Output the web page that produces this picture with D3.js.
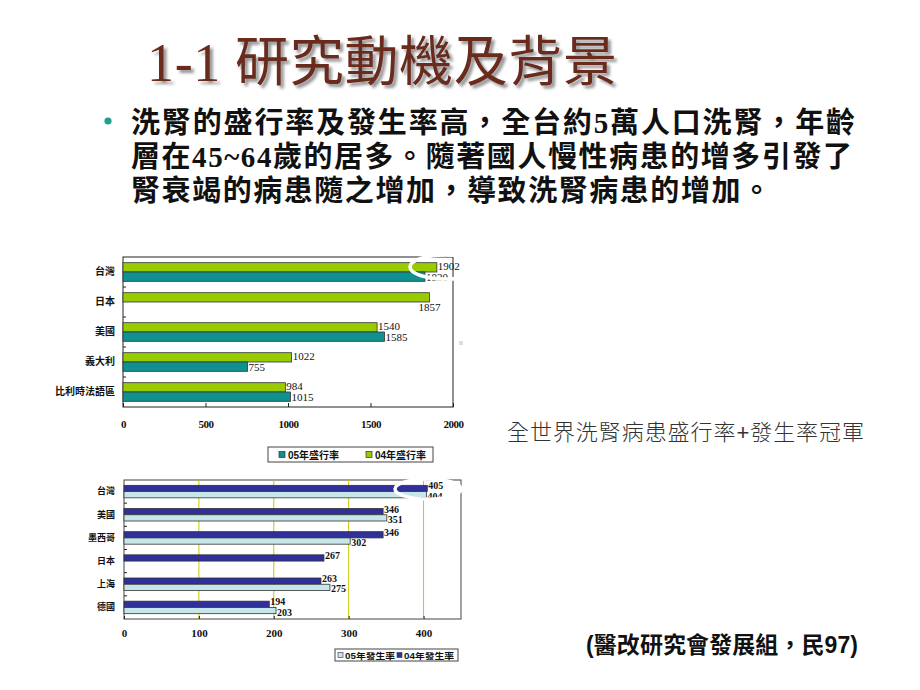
<!DOCTYPE html>
<html><head><meta charset="utf-8">
<script src="https://cdn.jsdelivr.net/npm/d3@7"></script>
<style>
html,body{margin:0;padding:0;background:#fff;}
svg{display:block;}
</style></head>
<body>
<script>
// ---------- data ----------
const prevCats = ["台灣", "日本", "美國", "義大利", "比利時法語區"];
const prev04 = [1902, 1857, 1540, 1022, 984];
const prev05 = [1830, null, 1585, 755, 1015];
const prevTicks = [0, 500, 1000, 1500, 2000];
const prevLegend = ["05年盛行率", "04年盛行率"];

const incCats = ["台灣", "美國", "墨西哥", "日本", "上海", "德國"];
const inc04 = [405, 346, 346, 267, 263, 194];
const inc05 = [404, 351, 302, null, 275, 203];
const incTicks = [0, 100, 200, 300, 400];
const incLegend = ["05年發生率", "04年發生率"];

const titleText = "1-1 研究動機及背景";
const bodyLines = [
  "洗腎的盛行率及發生率高，全台約5萬人口洗腎，年齡",
  "層在45~64歲的居多。隨著國人慢性病患的增多引發了",
  "腎衰竭的病患隨之增加，導致洗腎病患的增加。"
];
const captionText = "全世界洗腎病患盛行率+發生率冠軍";
const sourceText = "(醫改研究會發展組，民97)";

// ---------- svg ----------
const W = 920, H = 690;
const svg = d3.select("body").append("svg").attr("width", W).attr("height", H);
const defs = svg.append("defs");
defs.append("filter").attr("id", "shadow").attr("x", "-5%").attr("y", "-20%")
  .attr("width", "115%").attr("height", "150%")
  .append("feDropShadow").attr("dx", 3).attr("dy", 3).attr("stdDeviation", 1.6)
  .attr("flood-color", "#777").attr("flood-opacity", 0.8);

const serifCJK = "'Liberation Serif','Times New Roman','Noto Sans CJK TC',serif";
const sansCJK = "'Liberation Sans',Arial,'Noto Sans CJK TC',sans-serif";

// title with shadow
svg.append("text").attr("x", 147).attr("y", 81)
  .attr("font-family", serifCJK).attr("font-size", 54)
  .attr("fill", "#6b2a1c").attr("filter", "url(#shadow)")
  .attr("textLength", 470).attr("lengthAdjust", "spacing")
  .text(titleText);

// bullet + body
svg.append("circle").attr("cx", 108).attr("cy", 121).attr("r", 3.6).attr("fill", "#1f9f8c");
const bodyLens = [724, 721, 640];
bodyLines.forEach((t, i) => {
  svg.append("text").attr("x", 131).attr("y", 133 + i * 34)
    .attr("font-family", serifCJK).attr("font-weight", "bold").attr("font-size", 29)
    .attr("fill", "#111")
    .attr("textLength", bodyLens[i]).attr("lengthAdjust", "spacing")
    .text(t);
});

// caption & source
svg.append("text").attr("x", 507).attr("y", 440)
  .attr("font-family", sansCJK).attr("font-size", 22).attr("font-weight", 300)
  .attr("fill", "#333").attr("textLength", 357).attr("lengthAdjust", "spacing")
  .text(captionText);
svg.append("text").attr("x", 586).attr("y", 653)
  .attr("font-family", sansCJK).attr("font-size", 23).attr("font-weight", "bold")
  .attr("fill", "#111").attr("textLength", 272).attr("lengthAdjust", "spacing")
  .text(sourceText);

// ---------- chart 1 : prevalence ----------
{
  const g = svg.append("g");
  const x = d3.scaleLinear().domain([0, 2000]).range([123, 453]);
  const y = d3.scaleBand().domain(prevCats).range([257, 407]).paddingInner(0.38).paddingOuter(0.19);
  const sub = d3.scaleBand().domain(["04", "05"]).range([0, y.bandwidth()]);
  const cGreen = "#99cc00", cTeal = "#0f9190";

  g.append("rect").attr("x", 123).attr("y", 257).attr("width", 330).attr("height", 150)
    .attr("fill", "#fff").attr("stroke", "#222").attr("stroke-width", 1);

  const ax = g.append("g").attr("transform", "translate(0,407)")
    .call(d3.axisBottom(x).tickValues(prevTicks).tickFormat(d3.format("d"))
      .tickSizeInner(-4).tickSizeOuter(0).tickPadding(13));
  ax.select(".domain").remove();
  ax.selectAll("line").attr("stroke", "#222");
  ax.selectAll("text").attr("font-family", serifCJK).attr("font-weight", "bold")
    .attr("font-size", 11).attr("fill", "#111").attr("letter-spacing", -0.5);

  const ay = g.append("g").attr("transform", "translate(123,0)")
    .call(d3.axisLeft(y).tickSize(0).tickPadding(8));
  ay.select(".domain").remove();
  ay.selectAll("text").attr("font-family", sansCJK).attr("font-weight", "bold")
    .attr("font-size", 10).attr("fill", "#111");
  g.selectAll(".bt").data(prevCats.slice(1)).enter().append("line")
    .attr("x1", 123).attr("x2", 126)
    .attr("y1", d => y(d) - y.step() * y.paddingInner() / 2)
    .attr("y2", d => y(d) - y.step() * y.paddingInner() / 2)
    .attr("stroke", "#222");

  const rows = prevCats.map((c, i) => ({ c, v04: prev04[i], v05: prev05[i] }));
  g.selectAll(".b04").data(rows).enter().append("rect")
    .attr("x", x(0)).attr("y", d => y(d.c) + sub("04"))
    .attr("width", d => x(d.v04) - x(0)).attr("height", sub.bandwidth())
    .attr("fill", cGreen).attr("stroke", "#333").attr("stroke-width", 0.8);
  g.selectAll(".b05").data(rows.filter(d => d.v05 != null)).enter().append("rect")
    .attr("x", x(0)).attr("y", d => y(d.c) + sub("05"))
    .attr("width", d => x(d.v05) - x(0)).attr("height", sub.bandwidth())
    .attr("fill", cTeal).attr("stroke", "#333").attr("stroke-width", 0.8);
  const lf = { "font-family": serifCJK, "font-size": 11, fill: "#111" };
  rows.forEach(d => {
    const t1 = g.append("text");
    if (d.v05 == null) {
      t1.attr("x", x(d.v04)).attr("y", y(d.c) + sub("05") + sub.bandwidth() / 2 + 4).attr("text-anchor", "middle");
    } else {
      t1.attr("x", x(d.v04) + 1).attr("y", y(d.c) + sub("04") + sub.bandwidth() / 2 + 3);
    }
    t1.text(d.v04);
    Object.entries(lf).forEach(([k, v]) => t1.attr(k, v));
    if (d.v05 != null) {
      const t2 = g.append("text").attr("x", x(d.v05) + 1)
        .attr("y", y(d.c) + sub("05") + sub.bandwidth() / 2 + 4).text(d.v05);
      Object.entries(lf).forEach(([k, v]) => t2.attr(k, v));
    }
  });
  g.append("ellipse").attr("cx", 446).attr("cy", 267).attr("rx", 36).attr("ry", 12)
    .attr("fill", "none").attr("stroke", "#fff").attr("stroke-width", 3.5);
  g.append("rect").attr("x", 459).attr("y", 341).attr("width", 4).attr("height", 4).attr("fill", "#ddd");

  const lg = g.append("g");
  lg.append("rect").attr("x", 268).attr("y", 447).attr("width", 165).attr("height", 15)
    .attr("fill", "#fff").attr("stroke", "#444").attr("stroke-width", 1);
  const lcol = [cTeal, cGreen];
  const lx = [279, 366];
  prevLegend.forEach((t, i) => {
    lg.append("rect").attr("x", lx[i]).attr("y", 451.5).attr("width", 6).attr("height", 6)
      .attr("fill", lcol[i]).attr("stroke", "#333").attr("stroke-width", 0.7);
    lg.append("text").attr("x", lx[i] + 9).attr("y", 458.5).attr("font-family", sansCJK)
      .attr("font-size", 10).attr("font-weight", "bold").attr("fill", "#111").text(t);
  });
}

// ---------- chart 2 : incidence ----------
{
  const g = svg.append("g");
  const x = d3.scaleLinear().domain([0, 450]).range([124, 461]);
  const y = d3.scaleBand().domain(incCats).range([480, 619]).paddingInner(0.46).paddingOuter(0.23);
  const sub = d3.scaleBand().domain(["04", "05"]).range([0, y.bandwidth()]);
  const cDark = "#30309a", cLight = "#c6e6ea";

  g.append("rect").attr("x", 124).attr("y", 480).attr("width", 337).attr("height", 139)
    .attr("fill", "#fff").attr("stroke", "#444").attr("stroke-width", 1);
  g.selectAll(".gl").data(incTicks.slice(1)).enter().append("line")
    .attr("x1", d => x(d)).attr("x2", d => x(d)).attr("y1", 480).attr("y2", 619)
    .attr("stroke", "#c8c800").attr("stroke-width", 1);

  const ax = g.append("g").attr("transform", "translate(0,619)")
    .call(d3.axisBottom(x).tickValues(incTicks).tickFormat(d3.format("d"))
      .tickSizeInner(-3).tickSizeOuter(0).tickPadding(10));
  ax.select(".domain").remove();
  ax.selectAll("line").attr("stroke", "#222");
  ax.selectAll("text").attr("font-family", serifCJK).attr("font-weight", "bold")
    .attr("font-size", 11).attr("fill", "#111");

  const ay = g.append("g").attr("transform", "translate(124,0)")
    .call(d3.axisLeft(y).tickSize(0).tickPadding(9));
  ay.select(".domain").remove();
  ay.selectAll("text").attr("font-family", sansCJK).attr("font-weight", "bold")
    .attr("font-size", 9).attr("fill", "#111");
  g.selectAll(".bt").data(incCats.slice(1)).enter().append("line")
    .attr("x1", 124).attr("x2", 127)
    .attr("y1", d => y(d) - y.step() * y.paddingInner() / 2)
    .attr("y2", d => y(d) - y.step() * y.paddingInner() / 2)
    .attr("stroke", "#222");

  const rows = incCats.map((c, i) => ({ c, v04: inc04[i], v05: inc05[i] }));
  g.selectAll(".b04").data(rows).enter().append("rect")
    .attr("x", x(0)).attr("y", d => y(d.c) + sub("04"))
    .attr("width", d => x(d.v04) - x(0)).attr("height", sub.bandwidth())
    .attr("fill", cDark).attr("stroke", "#333").attr("stroke-width", 0.8);
  g.selectAll(".b05").data(rows.filter(d => d.v05 != null)).enter().append("rect")
    .attr("x", x(0)).attr("y", d => y(d.c) + sub("05"))
    .attr("width", d => x(d.v05) - x(0)).attr("height", sub.bandwidth())
    .attr("fill", cLight).attr("stroke", "#333").attr("stroke-width", 0.8);

  rows.forEach(d => {
    g.append("text").attr("x", x(d.v04) + 1).attr("y", y(d.c) + sub("04") + sub.bandwidth() / 2 + 1)
      .attr("font-family", serifCJK).attr("font-weight", "bold").attr("font-size", 10)
      .attr("fill", "#111").text(d.v04);
    if (d.v05 != null) {
      g.append("text").attr("x", x(d.v05) + 1).attr("y", y(d.c) + sub("05") + sub.bandwidth() / 2 + 5)
        .attr("font-family", serifCJK).attr("font-weight", "bold").attr("font-size", 10)
        .attr("fill", "#111").text(d.v05);
    }
  });

  g.append("ellipse").attr("cx", 428).attr("cy", 489).attr("rx", 33).attr("ry", 10)
    .attr("fill", "none").attr("stroke", "#fff").attr("stroke-width", 3.5);

  const lg = g.append("g");
  lg.append("rect").attr("x", 335).attr("y", 649).attr("width", 123).attr("height", 12)
    .attr("fill", "#fff").attr("stroke", "#444").attr("stroke-width", 1);
  const lcol = [cLight, cDark];
  const lx = [338, 397];
  incLegend.forEach((t, i) => {
    lg.append("rect").attr("x", lx[i]).attr("y", 652.5).attr("width", 5).attr("height", 5)
      .attr("fill", lcol[i]).attr("stroke", "#333").attr("stroke-width", 0.6);
    lg.append("text").attr("x", lx[i] + 7).attr("y", 658.5).attr("font-family", sansCJK)
      .attr("font-size", 8.5).attr("font-weight", "bold").attr("fill", "#111")
      .attr("textLength", 50).attr("lengthAdjust", "spacingAndGlyphs").text(t);
  });
}
</script>
</body></html>
